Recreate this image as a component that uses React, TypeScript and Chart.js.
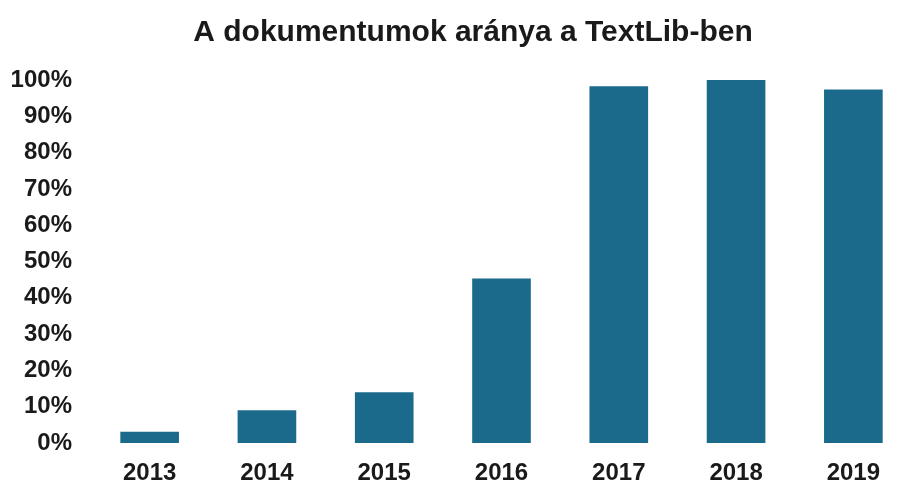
import React, { useEffect, useRef } from "react";
import { Chart, registerables } from "chart.js";

Chart.register(...registerables);

const TITLE = "A dokumentumok aránya a TextLib-ben";
const years = ["2013", "2014", "2015", "2016", "2017", "2018", "2019"];
const shares = [3.1, 9.0, 14.0, 45.3, 98.3, 100, 97.4];
const yTicks = [0, 10, 20, 30, 40, 50, 60, 70, 80, 90, 100];

const FONT = "'Liberation Sans', Arial, sans-serif";

export default function App() {
  const ref = useRef<HTMLCanvasElement | null>(null);

  useEffect(() => {
    document.documentElement.style.overflow = "hidden";
    document.body.style.overflow = "hidden";
    const ctx = ref.current;
    if (!ctx) return;
    const chart = new Chart(ctx, {
      type: "bar",
      data: {
        labels: years,
        datasets: [
          {
            data: shares,
            backgroundColor: "#1b6a8b",
            borderWidth: 0,
            barPercentage: 0.5,
            categoryPercentage: 1,
          },
        ],
      },
      options: {
        animation: false,
        responsive: true,
        maintainAspectRatio: false,
        layout: { padding: 0 },
        plugins: {
          legend: { display: false },
          tooltip: { enabled: false },
          title: {
            display: true,
            text: TITLE,
            color: "#1a1a1a",
            font: { family: FONT, size: 30, weight: "bold" },
            padding: { top: 15, bottom: 29 },
          },
        },
        scales: {
          x: {
            grid: { display: false, drawTicks: false },
            border: { display: false },
            afterFit: (scale: any) => {
              scale.height = 41;
            },
            ticks: {
              color: "#1a1a1a",
              padding: 16,
              font: { family: FONT, size: 24, weight: "bold" },
            },
          },
          y: {
            min: 0,
            max: 100,
            afterBuildTicks: (scale: any) => {
              scale.ticks = yTicks.map((v) => ({ value: v }));
            },
            afterFit: (scale: any) => {
              scale.width = 91;
            },
            grid: { display: false, drawTicks: false },
            border: { display: false },
            ticks: {
              color: "#1a1a1a",
              padding: 19,
              callback: (v: any) => v + "%",
              font: { family: FONT, size: 24, weight: "bold" },
            },
          },
          yRight: {
            position: "right",
            display: true,
            min: 0,
            max: 100,
            grid: { display: false, drawTicks: false },
            border: { display: false },
            ticks: { display: false },
            afterFit: (scale: any) => {
              scale.width = 34;
            },
          },
        },
      },
    });
    return () => chart.destroy();
  }, []);

  return (
    <div
      style={{
        position: "fixed",
        left: 0,
        top: 0,
        width: 905,
        height: 484,
        overflow: "hidden",
        background: "#fff",
      }}
    >
      <div style={{ position: "absolute", left: 0, top: 0, width: 946, height: 484 }}>
        <canvas ref={ref} />
      </div>
    </div>
  );
}
